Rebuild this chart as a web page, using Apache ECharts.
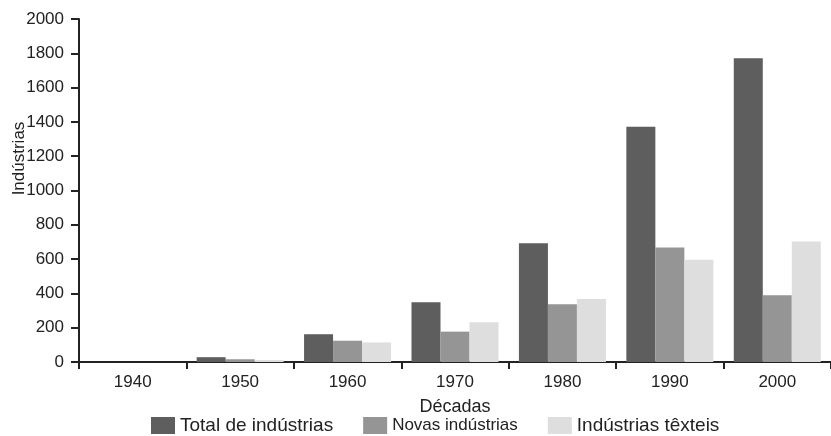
<!DOCTYPE html>
<html>
<head>
<meta charset="utf-8">
<script src="https://cdn.jsdelivr.net/npm/echarts@6/dist/echarts.min.js"></script>
<style>
  html, body { margin: 0; padding: 0; background: #fff; }
  #mycontainer { width: 831px; height: 436px; }
</style>
</head>
<body>
<div id="mycontainer"></div>
<script>
var decadas = ['1940', '1950', '1960', '1970', '1980', '1990', '2000'];
var totalIndustrias = [0, 28, 162, 348, 692, 1372, 1771];
var novasIndustrias = [0, 16, 124, 177, 337, 667, 389];
var industriasTexteis = [0, 12, 114, 232, 367, 596, 702];

var dom = document.getElementById('mycontainer');
var chart = echarts.init(dom, null, { renderer: 'canvas' });

var font = 'Liberation Sans, Arial, sans-serif';

var option = {
    animation: false,
    textStyle: { fontFamily: font },
    grid: {
        left: 79,
        right: 0,
        top: 19,
        bottom: 74,
        outerBoundsMode: 'none' // keep plot box fixed
    },
    legend: {
        left: 151,
        top: 416,
        padding: 0,
        itemWidth: 24,
        itemHeight: 17,
        itemGap: 30,
        icon: 'rect',
        textStyle: { fontSize: 19, color: '#222', fontFamily: font },
        data: [
            { name: 'Total de indústrias' },
            { name: 'Novas indústrias', textStyle: { fontSize: 17 } },
            { name: 'Indústrias têxteis' }
        ]
    },
    xAxis: {
        type: 'category',
        data: decadas,
        name: 'Décadas',
        nameLocation: 'middle',
        nameGap: 36,
        nameTextStyle: { fontSize: 18, color: '#222', verticalAlign: 'top' },
        axisLine: { lineStyle: { color: '#222', width: 2 } },
        axisTick: { show: true, length: 7, lineStyle: { color: '#222', width: 2 } },
        axisLabel: { fontSize: 17, color: '#222', margin: 12 }
    },
    yAxis: {
        type: 'value',
        min: 0,
        max: 2000,
        interval: 200,
        name: 'Indústrias',
        nameLocation: 'middle',
        nameGap: 51,
        nameMoveOverlap: false,
        nameTextStyle: { fontSize: 17, color: '#222', padding: [0, 0, 0, 64] },
        splitLine: { show: false },
        axisLine: { show: true, lineStyle: { color: '#222', width: 2 } },
        axisTick: { show: true, length: 8, lineStyle: { color: '#222', width: 2 } },
        axisLabel: {
            fontSize: 17,
            color: '#222',
            margin: 15,
            formatter: function (v) { return String(v); }
        }
    },
    series: [
        {
            name: 'Total de indústrias',
            type: 'bar',
            data: totalIndustrias,
            barGap: 0,
            barCategoryGap: '19%',
            itemStyle: { color: '#5e5e5e' }
        },
        {
            name: 'Novas indústrias',
            type: 'bar',
            data: novasIndustrias,
            itemStyle: { color: '#959595' }
        },
        {
            name: 'Indústrias têxteis',
            type: 'bar',
            data: industriasTexteis,
            itemStyle: { color: '#dedede' }
        }
    ]
};

chart.setOption(option);
</script>
</body>
</html>
